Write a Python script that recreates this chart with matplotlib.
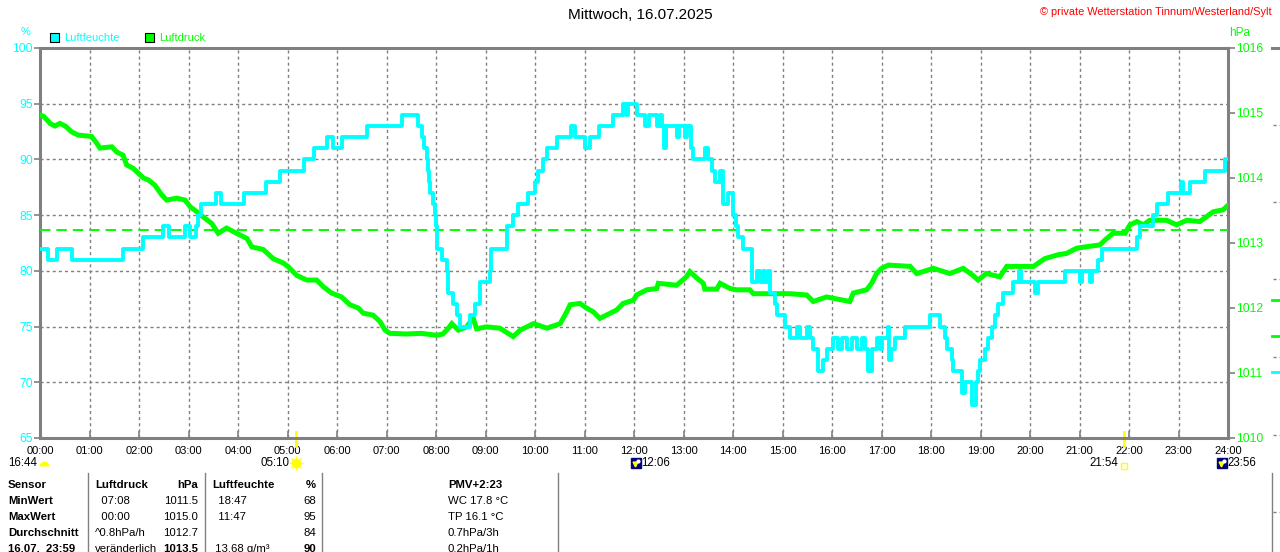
import numpy as np
import matplotlib.pyplot as plt
from matplotlib import transforms
from matplotlib.lines import Line2D

plt.rcParams['font.family'] = ['Liberation Sans', 'DejaVu Sans']
plt.rcParams['lines.scale_dashes'] = False

W, H = 1280, 552
CYAN = '#00ffff'
GREEN = '#00ff00'
GRAY = '#808080'

# Luftfeuchte (%) - stepwise, hour of day / value
hum_t = [0.00, 0.16, 0.34, 0.64, 1.68, 2.08, 2.48, 2.60, 2.93, 3.03, 3.15, 3.19,
         3.25, 3.56, 3.66, 4.12, 4.57, 4.85, 5.33, 5.54, 5.80, 5.92, 6.10, 6.61,
         7.31, 7.64, 7.71, 7.76, 7.81, 7.84, 7.86, 7.88, 7.94, 7.98, 8.00, 8.02,
         8.12, 8.22, 8.24, 8.34, 8.42, 8.48, 8.69, 8.79, 8.89, 9.09, 9.12, 9.43,
         9.56, 9.66, 9.86, 10.00, 10.06, 10.16, 10.24, 10.44, 10.73, 10.81, 11.01,
         11.11, 11.29, 11.58, 11.78, 11.84, 11.88, 12.06, 12.22, 12.30, 12.46,
         12.53, 12.57, 12.60, 12.64, 12.86, 12.90, 13.03, 13.07, 13.15, 13.19,
         13.43, 13.49, 13.57, 13.64, 13.74, 13.80, 13.90, 14.00, 14.06, 14.10,
         14.20, 14.38, 14.48, 14.55, 14.60, 14.65, 14.70, 14.75, 14.85, 14.88,
         15.05, 15.15, 15.30, 15.35, 15.50, 15.55, 15.62, 15.72, 15.82, 15.89,
         16.02, 16.12, 16.20, 16.30, 16.40, 16.50, 16.60, 16.67, 16.73, 16.80,
         16.90, 16.97, 17.01, 17.14, 17.16, 17.20, 17.27, 17.47, 17.98, 18.18,
         18.28, 18.32, 18.42, 18.44, 18.62, 18.69, 18.82, 18.91, 18.95, 18.99,
         19.09, 19.15, 19.23, 19.29, 19.35, 19.45, 19.66, 19.78, 19.82, 20.10,
         20.16, 20.71, 21.01, 21.05, 21.21, 21.25, 21.37, 21.45, 22.16, 22.22,
         22.48, 22.56, 22.79, 23.05, 23.09, 23.23, 23.54, 23.94, 24.00]
hum_v = [82, 81, 82, 81, 82, 83, 84, 83, 84, 83, 84, 85,
         86, 87, 86, 87, 88, 89, 90, 91, 92, 91, 92, 93,
         94, 93, 92, 91, 90, 89, 88, 87, 86, 85, 84, 82,
         81, 80, 78, 77, 76, 75, 76, 77, 79, 80, 82, 84,
         85, 86, 87, 88, 89, 90, 91, 92, 93, 92, 91,
         92, 93, 94, 95, 94, 95, 94, 93, 94, 93,
         94, 93, 91, 93, 92, 93, 92, 93, 91, 90,
         91, 90, 89, 88, 89, 86, 87, 85, 84, 83,
         82, 79, 80, 79, 80, 79, 80, 78, 77, 76,
         75, 74, 75, 74, 75, 74, 73, 71, 72, 73,
         74, 73, 74, 73, 74, 73, 74, 73, 71, 73,
         74, 73, 74, 75, 72, 73, 74, 75, 76, 75,
         74, 73, 72, 71, 69, 70, 68, 70, 71, 72,
         73, 74, 75, 76, 77, 78, 79, 80, 79, 78,
         79, 80, 79, 80, 79, 80, 81, 82, 83, 84,
         85, 86, 87, 88, 87, 88, 89, 90, 90]

# Luftdruck (hPa)
prs_t = [0.00, 0.07, 0.17, 0.20, 0.30, 0.40, 0.51, 0.64, 0.77, 1.04, 1.15, 1.21,
         1.45, 1.55, 1.68, 1.75, 1.88, 1.95, 2.09, 2.19, 2.32, 2.46, 2.56, 2.76,
         2.93, 3.03, 3.17, 3.30, 3.47, 3.60, 3.77, 3.97, 4.18, 4.28, 4.51, 4.71,
         4.92, 5.02, 5.19, 5.39, 5.59, 5.72, 5.89, 6.09, 6.26, 6.43, 6.53, 6.73,
         6.87, 6.97, 7.07, 7.40, 7.70, 8.01, 8.14, 8.25, 8.32, 8.45, 8.62, 8.75,
         8.82, 9.02, 9.29, 9.56, 9.70, 9.97, 10.24, 10.51, 10.64, 10.71, 10.91,
         11.04, 11.18, 11.31, 11.52, 11.65, 11.78, 11.99, 12.05, 12.26, 12.46,
         12.49, 12.86, 13.06, 13.13, 13.27, 13.40, 13.43, 13.67, 13.74, 13.94,
         14.07, 14.34, 14.41, 15.15, 15.49, 15.62, 15.89, 16.36, 16.43, 16.70,
         16.80, 16.90, 17.00, 17.14, 17.58, 17.71, 18.05, 18.38, 18.65, 18.85,
         18.95, 19.12, 19.39, 19.53, 20.07, 20.30, 20.57, 20.74, 20.94, 21.21,
         21.41, 21.52, 21.68, 21.92, 22.02, 22.16, 22.29, 22.42, 22.76, 22.96,
         23.17, 23.43, 23.70, 23.90, 24.00]
prs_v = [1014.97, 1014.95, 1014.87, 1014.84, 1014.80, 1014.84, 1014.80, 1014.71,
         1014.66, 1014.64, 1014.53, 1014.46, 1014.48, 1014.40, 1014.35, 1014.20,
         1014.15, 1014.10, 1014.00, 1013.97, 1013.89, 1013.74, 1013.66, 1013.69,
         1013.66, 1013.56, 1013.48, 1013.40, 1013.30, 1013.15, 1013.23, 1013.15,
         1013.07, 1012.94, 1012.90, 1012.76, 1012.69, 1012.63, 1012.50, 1012.43,
         1012.43, 1012.33, 1012.23, 1012.17, 1012.05, 1012.00, 1011.92, 1011.89,
         1011.79, 1011.66, 1011.61, 1011.60, 1011.61, 1011.58, 1011.60, 1011.69,
         1011.76, 1011.66, 1011.71, 1011.85, 1011.68, 1011.71, 1011.69, 1011.56,
         1011.66, 1011.76, 1011.69, 1011.76, 1011.94, 1012.05, 1012.07, 1012.00,
         1011.94, 1011.84, 1011.92, 1011.97, 1012.07, 1012.12, 1012.20, 1012.28,
         1012.30, 1012.38, 1012.35, 1012.48, 1012.56, 1012.46, 1012.38, 1012.29,
         1012.29, 1012.38, 1012.30, 1012.28, 1012.28, 1012.22, 1012.22, 1012.20,
         1012.10, 1012.17, 1012.10, 1012.23, 1012.28, 1012.38, 1012.53, 1012.61,
         1012.66, 1012.64, 1012.53, 1012.61, 1012.53, 1012.61, 1012.50, 1012.43,
         1012.53, 1012.48, 1012.64, 1012.64, 1012.76, 1012.82, 1012.84, 1012.92,
         1012.95, 1012.97, 1013.05, 1013.15, 1013.15, 1013.28, 1013.33, 1013.28,
         1013.35, 1013.35, 1013.28, 1013.35, 1013.33, 1013.48, 1013.51, 1013.58]
prs_ref = 1013.2

hours = list(range(25))
hour_labels = [f"{h:02d}:00" for h in hours]
hum_ticks = [65, 70, 75, 80, 85, 90, 95, 100]
prs_ticks = [1010, 1011, 1012, 1013, 1014, 1015, 1016]

title = "Mittwoch, 16.07.2025"
credit = "\u00a9 private Wetterstation Tinnum/Westerland/Sylt"

# sun / moon events (hour, label)
ev_moonset = (0.0, "16:44")
ev_sunrise = (5 + 10 / 60, "05:10")
ev_moonrise = (12 + 6 / 60, "12:06")
ev_sunset = (21 + 54 / 60, "21:54")
ev_moon2 = (23 + 56 / 60, "23:56")

table_rows = [
    ["Sensor", "Luftdruck", "hPa", "Luftfeuchte", "%", "PMV+2:23"],
    ["MinWert", "  07:08", "1011.5", "  18:47", "68", "WC 17.8 \u00b0C"],
    ["MaxWert", "  00:00", "1015.0", "  11:47", "95", "TP 16.1 \u00b0C"],
    ["Durchschnitt", "^0.8hPa/h", "1012.7", "", "84", "0.7hPa/3h"],
    ["16.07.  23:59", "ver\u00e4nderlich", "1013.5", " 13.68 g/m\u00b3", "90", "0.2hPa/1h"],
]
bold_cells = [(4, 2), (4, 4)]

fig = plt.figure(figsize=(W / 100, H / 100), dpi=100)
ax = fig.add_axes([40 / W, (H - 438) / H, 1188 / W, 390 / H])
ax2 = ax.twinx()


def fx(x):
    return x / W


def fy(y):
    return 1 - y / H


# axes / grid
ax.set_xlim(0, 24)
ax.set_ylim(65, 100)
ax.set_xticks(hours)
ax.set_xticklabels(hour_labels)
ax.set_yticks(hum_ticks)
ax.grid(True, color=GRAY, lw=1, dashes=(2.2, 2.2))
for s in ax.spines.values():
    s.set_color(GRAY)
    s.set_linewidth(2.2)
ax.tick_params(axis='x', direction='in', length=5, color=GRAY, width=1.2,
               labelsize=8, labelcolor='black', pad=6)
ax.tick_params(axis='y', direction='out', length=4, color=GRAY, width=1.2,
               labelsize=8.8, labelcolor=CYAN, pad=1)

ax2.set_ylim(1010, 1016)
ax2.set_yticks(prs_ticks)
ax2.tick_params(axis='y', direction='out', length=5, color=GRAY, width=1.2,
                labelsize=8.8, labelcolor=GREEN, pad=1)
for s in ax2.spines.values():
    s.set_visible(False)

ax2.axhline(prs_ref, color=GREEN, lw=1.4, dashes=(7.5, 4.3))
ax2.plot(prs_t, prs_v, color=GREEN, lw=3.6, solid_joinstyle='miter')
ax2.plot(hum_t, hum_v, color=CYAN, lw=2.8, drawstyle='steps-post',
         transform=ax.transData)
ax2.set_ylim(1010, 1016)
ax2.set_xlim(0, 24)

# header texts
fig.text(0.5, fy(15), title, ha='center', va='center', fontsize=11)
fig.text(fx(1272), fy(12), credit, ha='right', va='center', fontsize=7.9,
         color='red')
fig.text(fx(26), fy(32), "%", ha='center', va='center', fontsize=8, color=CYAN)
fig.text(fx(1240), fy(33), "hPa", ha='center', va='center', fontsize=8.5,
         color=GREEN)

# legend
for x0, lab, col in [(50, "Luftfeuchte", CYAN), (145, "Luftdruck", GREEN)]:
    fig.patches.append(plt.Rectangle((fx(x0), fy(42)), 9 / W, 9 / H,
                                     transform=fig.transFigure, facecolor=col,
                                     edgecolor='black', lw=0.8))
    fig.text(fx(x0 + 14), fy(38), lab, ha='left', va='center', fontsize=8,
             color=col)

# sun and moon events below the time axis
bt = transforms.blended_transform_factory(ax.transData, fig.transFigure)
for h in (ev_sunrise[0], ev_sunset[0]):
    ax.plot([h, h], [fy(432), fy(446)], color='#ffff00', lw=2,
            transform=bt, clip_on=False)
ym = fy(463)
ax.plot([ev_moonset[0] + 0.09], [fy(466)], marker='o', ms=7, fillstyle='top',
        markerfacecolor='#ffff00', markerfacecoloralt='none',
        markeredgecolor='none', transform=bt, clip_on=False)
fig.text(fx(37), ym, ev_moonset[1], ha='right', va='center', fontsize=8.3)
ax.plot([ev_sunrise[0]], [ym], marker='o', ms=6, color='#ffff00',
        transform=bt, clip_on=False)
ax.plot([ev_sunrise[0]], [ym], marker='+', ms=10, mew=1, color='#ffff00',
        transform=bt, clip_on=False)
ax.plot([ev_sunrise[0]], [ym], marker='x', ms=7, mew=1, color='#ffff00',
        transform=bt, clip_on=False)
ax.text(ev_sunrise[0] - 0.13, ym, ev_sunrise[1], ha='right', va='center',
        fontsize=8.3, transform=bt)
for h, lab in (ev_moonrise, ev_moon2):
    ax.plot([h - 0.06], [ym], marker='s', ms=7, color='#000080',
            transform=bt, clip_on=False)
    ax.plot([h - 0.08], [ym - 1 / H], marker='v', ms=3.5, color='#ffff00',
            transform=bt, clip_on=False)
    ax.plot([h - 0.02], [ym + 2 / H], marker='o', ms=2, color='white',
            transform=bt, clip_on=False)
    ax.text(h + 0.05, ym, lab, ha='left', va='center', fontsize=8.3,
            transform=bt)
ax.plot([ev_sunset[0]], [fy(466)], marker='s', ms=5, fillstyle='none',
        mew=1, color='#ffff00', transform=bt, clip_on=False)
ax.text(ev_sunset[0] - 0.12, ym, ev_sunset[1], ha='right', va='center',
        fontsize=8.3, transform=bt)

# table
col_x = [8, 95, 198, 212, 316, 448]
col_ha = ['left', 'left', 'right', 'left', 'right', 'left']
row_y = [485, 501, 517, 533, 549]
for r, row in enumerate(table_rows):
    for c, cell in enumerate(row):
        bold = r == 0 or c == 0 or (r, c) in bold_cells
        fig.text(fx(col_x[c]), fy(row_y[r]), cell, ha=col_ha[c], va='center',
                 fontsize=8.2, fontweight='bold' if bold else 'normal')
for x in (88, 205, 322, 558, 1272):
    fig.add_artist(Line2D([fx(x), fx(x)], [fy(473), fy(552)], color=GRAY,
                          lw=1, transform=fig.transFigure))

# clipped neighbour panel at the far right edge
fig.add_artist(Line2D([fx(1272), 1], [fy(48), fy(48)], color=GRAY, lw=2.2,
                      transform=fig.transFigure))
for y in (125, 202, 279, 357, 435, 512):
    fig.add_artist(Line2D([fx(1273), fx(1280)], [fy(y), fy(y)], color=GRAY,
                          lw=1, dashes=(2.2, 2.2), transform=fig.transFigure))
for y, col in ((300, GREEN), (336, GREEN), (372, CYAN)):
    fig.add_artist(Line2D([fx(1272), fx(1280)], [fy(y), fy(y)], color=col,
                          lw=2, transform=fig.transFigure))

fig.savefig('out.png', dpi=100)
